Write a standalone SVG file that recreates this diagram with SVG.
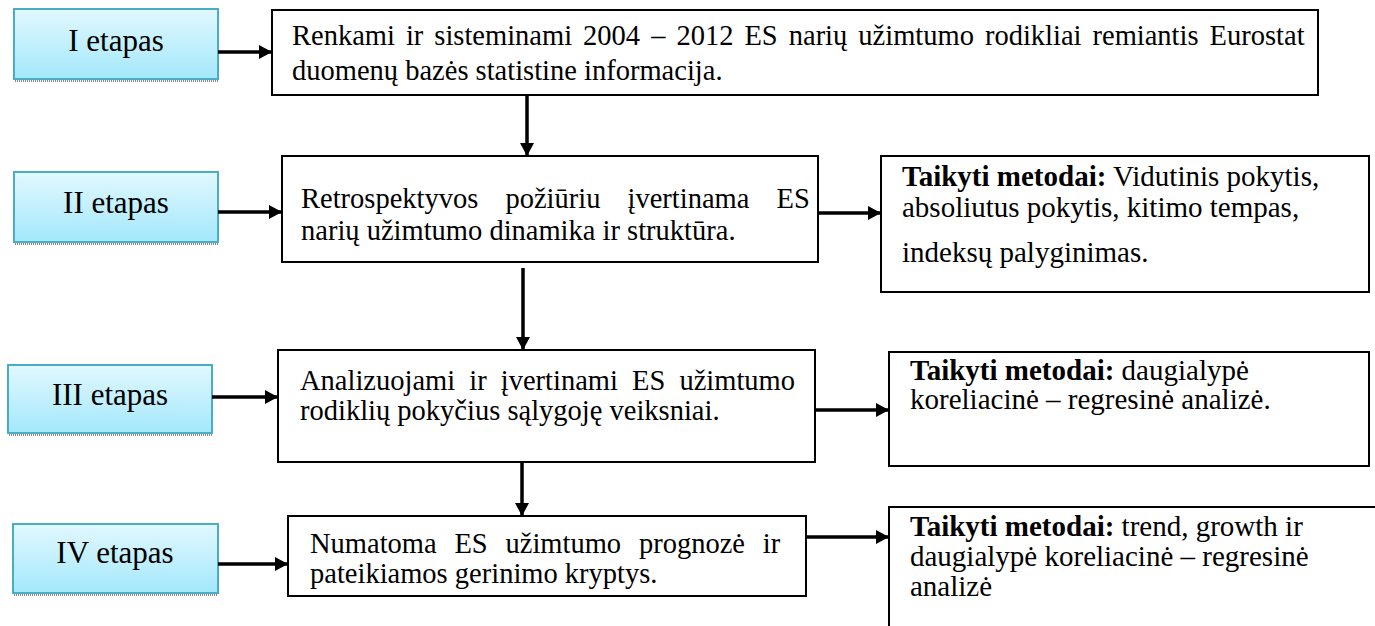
<svg xmlns="http://www.w3.org/2000/svg" width="1375" height="626" viewBox="0 0 1375 626">
<style>
.stage{stroke:#4BACC6;stroke-width:2;fill:url(#blue)}
.shadow{stroke:#8a8a8a;stroke-width:3;stroke-dasharray:1 1}
.box{fill:#fff;stroke:#000;stroke-width:2}
.lbl{font-family:"Liberation Serif","Times New Roman",serif;font-size:31px;fill:#000;text-anchor:middle}
.txt{font-family:"Liberation Serif","Times New Roman",serif;font-size:28.5px;fill:#000}
.rt{font-family:"Liberation Serif","Times New Roman",serif;font-size:29px;fill:#000}
.b{font-weight:bold}
.conn{stroke:#000;stroke-width:3.5;fill:none;marker-end:url(#ah)}
</style>
<defs>
<linearGradient id="blue" x1="0" y1="0" x2="0" y2="1">
<stop offset="0" stop-color="#E2F8FF"/>
<stop offset="1" stop-color="#A3E8FB"/>
</linearGradient>
<marker id="ah" markerUnits="userSpaceOnUse" markerWidth="14" markerHeight="14" refX="13" refY="7" orient="auto">
<path d="M0,0 L13,7 L0,14 z" fill="#000"/>
</marker>
</defs>
<rect width="1375" height="626" fill="#fff"/>

<g id="stage1">
<line class="shadow" x1="15" y1="80.5" x2="218" y2="80.5"/>
<rect class="stage" x="14" y="9" width="204" height="70"/>
<text class="lbl" x="116" y="51">I etapas</text>
</g>
<g id="stage2">
<line class="shadow" x1="15" y1="243.5" x2="218" y2="243.5"/>
<rect class="stage" x="14" y="172" width="204" height="70"/>
<text class="lbl" x="116" y="213">II etapas</text>
</g>
<g id="stage3">
<line class="shadow" x1="9" y1="434.5" x2="212" y2="434.5"/>
<rect class="stage" x="8" y="365" width="204" height="68"/>
<text class="lbl" x="110" y="405">III etapas</text>
</g>
<g id="stage4">
<line class="shadow" x1="14" y1="594.5" x2="218" y2="594.5"/>
<rect class="stage" x="13" y="524" width="205" height="69"/>
<text class="lbl" x="115" y="563">IV etapas</text>
</g>

<g id="step1">
<rect class="box" x="272" y="10" width="1046" height="85"/>
<text class="txt" x="292" y="45" word-spacing="3.9">Renkami ir sisteminami 2004 – 2012 ES narių užimtumo rodikliai remiantis Eurostat</text>
<text class="txt" x="292" y="80">duomenų bazės statistine informacija.</text>
</g>
<g id="step2">
<rect class="box" x="282" y="156" width="536" height="106"/>
<text class="txt" x="301" y="208" word-spacing="20">Retrospektyvos požiūriu įvertinama ES</text>
<text class="txt" x="301" y="240">narių užimtumo dinamika ir struktūra.</text>
</g>
<g id="step3">
<rect class="box" x="278" y="350" width="537" height="112"/>
<text class="txt" x="300" y="390" word-spacing="7">Analizuojami ir įvertinami ES užimtumo</text>
<text class="txt" x="300" y="420">rodiklių pokyčius sąlygoję veiksniai.</text>
</g>
<g id="step4">
<rect class="box" x="288" y="516" width="518" height="80"/>
<text class="txt" x="310" y="553" word-spacing="10.7">Numatoma ES užimtumo prognozė ir</text>
<text class="txt" x="310" y="583">pateikiamos gerinimo kryptys.</text>
</g>

<g id="methods2">
<rect class="box" x="881" y="156" width="488" height="136"/>
<text class="rt" x="902" y="186"><tspan class="b">Taikyti metodai:</tspan> Vidutinis pokytis,</text>
<text class="rt" x="902" y="217">absoliutus pokytis, kitimo tempas,</text>
<text class="rt" x="902" y="262">indeksų palyginimas.</text>
</g>
<g id="methods3">
<rect class="box" x="889" y="352" width="480" height="114"/>
<text class="rt" x="910" y="380"><tspan class="b">Taikyti metodai:</tspan> daugialypė</text>
<text class="rt" x="910" y="409">koreliacinė – regresinė analizė.</text>
</g>
<g id="methods4">
<rect class="box" x="889" y="507" width="500" height="130"/>
<text class="rt" x="910" y="536"><tspan class="b">Taikyti metodai:</tspan> trend, growth ir</text>
<text class="rt" x="910" y="566">daugialypė koreliacinė – regresinė</text>
<text class="rt" x="910" y="596">analizė</text>
</g>

<g id="connectors">
<line class="conn" x1="218" y1="52" x2="272" y2="52"/>
<line class="conn" x1="218" y1="212" x2="282" y2="212"/>
<line class="conn" x1="212" y1="397" x2="278" y2="397"/>
<line class="conn" x1="218" y1="564" x2="288" y2="564"/>
<line class="conn" x1="527" y1="95" x2="527" y2="156"/>
<line class="conn" x1="523" y1="268" x2="523" y2="350"/>
<line class="conn" x1="522" y1="462" x2="522" y2="516"/>
<line class="conn" x1="818" y1="213" x2="881" y2="213"/>
<line class="conn" x1="815" y1="410" x2="889" y2="410"/>
<line class="conn" x1="806" y1="537" x2="889" y2="537"/>
</g>
</svg>
